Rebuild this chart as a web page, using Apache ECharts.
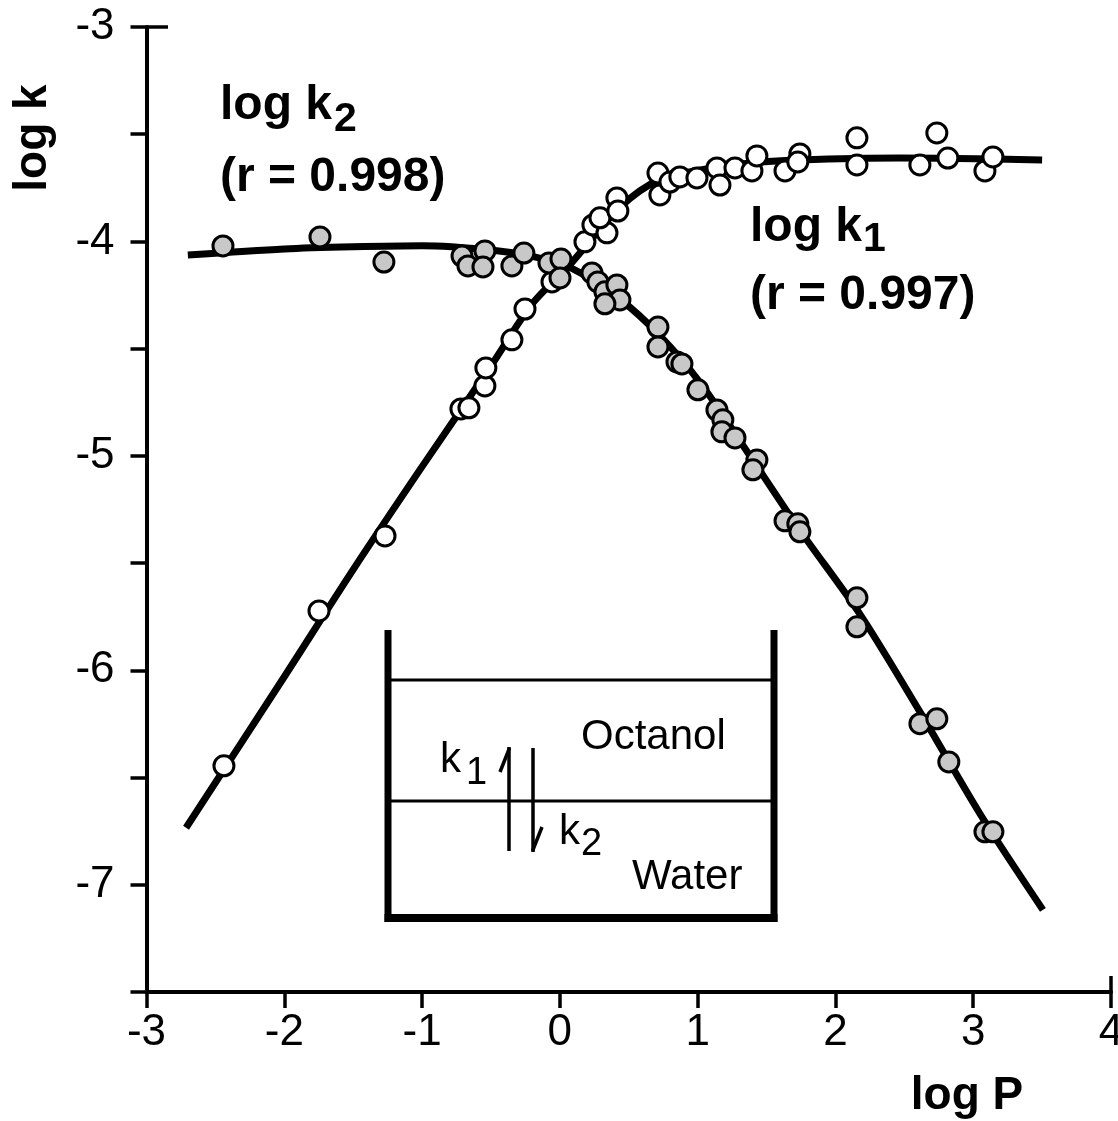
<!DOCTYPE html>
<html><head><meta charset="utf-8">
<script src="https://cdn.jsdelivr.net/npm/echarts@6/dist/echarts.min.js"></script>
<style>html,body{margin:0;padding:0;background:#fff}#c{width:1118px;height:1121px}</style>
</head><body><div id="c"></div>
<script>
// ---- data ----
const k1X = [-2.438,-1.748,-1.269,-0.718,-0.660,-0.544,-0.537,-0.348,-0.253,-0.057,0.182,0.240,0.342,0.291,0.414,0.421,0.712,0.726,0.799,0.871,0.995,1.140,1.162,1.271,1.394,1.430,1.634,1.742,1.727,2.156,2.156,2.613,2.736,2.816,3.085,3.143];
const k1Y = [-6.445,-5.723,-5.373,-4.781,-4.776,-4.674,-4.590,-4.459,-4.315,-4.189,-4.002,-3.923,-3.960,-3.890,-3.797,-3.858,-3.681,-3.783,-3.723,-3.699,-3.704,-3.657,-3.737,-3.657,-3.671,-3.601,-3.671,-3.592,-3.629,-3.517,-3.643,-3.643,-3.494,-3.611,-3.671,-3.606];
const k2X = [-2.445,-1.741,-1.277,-0.710,-0.667,-0.544,-0.558,-0.348,-0.261,-0.079,0.008,0.001,0.233,0.276,0.327,0.414,0.436,0.327,0.712,0.712,0.850,0.886,1.002,1.140,1.183,1.176,1.271,1.430,1.401,1.634,1.727,1.742,2.156,2.156,2.613,2.736,2.823,3.085,3.143];
const k2Y = [-4.021,-3.979,-4.096,-4.068,-4.114,-4.044,-4.119,-4.114,-4.054,-4.100,-4.082,-4.170,-4.147,-4.189,-4.235,-4.203,-4.273,-4.291,-4.399,-4.492,-4.562,-4.571,-4.692,-4.786,-4.832,-4.888,-4.916,-5.019,-5.065,-5.303,-5.317,-5.354,-5.662,-5.797,-6.249,-6.226,-6.427,-6.753,-6.753];
const fitK1X = [-2.713,-2.0,-1.5,-1.0,-0.5,-0.2,0.07,0.437,0.727,1.02,1.38,1.74,2.47,3.5];
const fitK1Y = [-6.734,-6.03,-5.53,-5.05,-4.58,-4.29,-4.11,-3.84,-3.71,-3.667,-3.634,-3.62,-3.611,-3.62];
const fitK2X = [-2.70,-2.0,-1.5,-1.0,-0.5,-0.2,0.07,0.437,0.727,1.02,1.38,1.74,2.18,2.61,3.05,3.506];
const fitK2Y = [-4.063,-4.035,-4.025,-4.02,-4.04,-4.07,-4.12,-4.27,-4.44,-4.66,-5.0,-5.345,-5.74,-6.19,-6.67,-7.117];
const xTickLabels = ['-3','-2','-1','0','1','2','3','4'];
const yTickLabels = ['-7','-6','-5','-4','-3'];

const pairs = (xs, ys) => xs.map((x, i) => [x, ys[i]]);
const FONT = "'Liberation Sans', Arial, Helvetica, sans-serif";

const chart = echarts.init(document.getElementById('c'), null, {renderer: 'canvas'});

function txt(x, y, text, size, bold, extra) {
  return Object.assign({
    type: 'text', x: x, y: y, z: 10,
    style: {text: text, fill: '#000', font: (bold ? 'bold ' : '') + size + 'px ' + FONT,
            align: 'left', verticalAlign: 'middle'}
  }, extra || {});
}
function ln(x1, y1, x2, y2, w) {
  return {type: 'line', z: 10, shape: {x1: x1, y1: y1, x2: x2, y2: y2},
          style: {stroke: '#000', lineWidth: w, lineCap: 'butt'}};
}

const option = {
  animation: false,
  backgroundColor: '#fff',
  grid: {left: 146.5, top: 27, width: 964.5, height: 965, outerBoundsMode: 'none', containLabel: false},
  xAxis: {
    type: 'value', min: -3, max: 4, interval: 1,
    axisLine: {onZero: false, lineStyle: {color: '#000', width: 4}},
    axisTick: {length: 16, lineStyle: {color: '#000', width: 3.5}},
    axisLabel: {fontSize: 44, color: '#000', fontFamily: FONT, margin: 19, hideOverlap: false,
      formatter: v => { const s = String(Math.round(v)); return xTickLabels.includes(s) ? s : ''; }},
    splitLine: {show: false}
  },
  yAxis: {
    type: 'value', min: -7.5, max: -3, interval: 0.5,
    axisLine: {onZero: false, lineStyle: {color: '#000', width: 4}},
    axisTick: {length: 16, lineStyle: {color: '#000', width: 3.5}},
    axisLabel: {fontSize: 44, color: '#000', fontFamily: FONT, margin: 32,
      formatter: v => { const s = String(v); return yTickLabels.includes(s) ? s : ''; }},
    splitLine: {show: false}
  },
  series: [
    {type: 'line', data: pairs(fitK1X, fitK1Y), smooth: 0.3, showSymbol: false, z: 2,
     lineStyle: {color: '#000', width: 7}},
    {type: 'line', data: pairs(fitK2X, fitK2Y), smooth: 0.3, showSymbol: false, z: 2,
     lineStyle: {color: '#000', width: 7}},
    {type: 'scatter', data: pairs(k1X, k1Y), symbol: 'circle', symbolSize: 20, z: 3,
     itemStyle: {color: '#ffffff', borderColor: '#000', borderWidth: 3, opacity: 1}},
    {type: 'scatter', data: pairs(k2X, k2Y), symbol: 'circle', symbolSize: 20, z: 4,
     itemStyle: {color: '#c8c8c8', borderColor: '#000', borderWidth: 3, opacity: 1}}
  ],
  graphic: [
    // axis titles
    txt(33, 138, 'log k', 46, true, {rotation: Math.PI / 2, style: {text: 'log k', fill: '#000',
      font: 'bold 46px ' + FONT, align: 'center', verticalAlign: 'middle'}}),
    txt(967, 1096, 'log P', 46, true, {style: {text: 'log P', fill: '#000',
      font: 'bold 46px ' + FONT, align: 'center', verticalAlign: 'middle'}}),
    // curve annotations
    txt(220, 106, 'log k', 48, true),
    txt(334, 120, '2', 41, true),
    txt(220, 178, '(r = 0.998)', 48, true),
    txt(750, 228, 'log k', 48, true),
    txt(863, 240, '1', 41, true),
    txt(750, 296, '(r = 0.997)', 48, true),
    // axis end ticks
    ln(146.5, 27, 168, 27, 3.5),
    ln(1111, 992, 1111, 976, 3.5),
    // inset diagram
    ln(388, 630, 388, 922, 7),
    ln(774, 630, 774, 922, 7),
    ln(384.5, 918, 777.5, 918, 8),
    ln(388, 680, 774, 680, 3),
    ln(388, 801, 774, 801, 3),
    ln(509, 747, 509, 851, 3.5),
    ln(500, 772, 509.5, 748, 3.5),
    ln(533, 748, 533, 852, 3.5),
    ln(532.5, 851, 542, 827, 3.5),
    txt(581, 737, 'Octanol', 42, false),
    txt(632, 877, 'Water', 42, false),
    txt(440, 760, 'k', 42, false),
    txt(466, 774, '1', 38, false),
    txt(559, 832, 'k', 42, false),
    txt(581, 845, '2', 38, false)
  ]
};
chart.setOption(option);
</script>
</body></html>
